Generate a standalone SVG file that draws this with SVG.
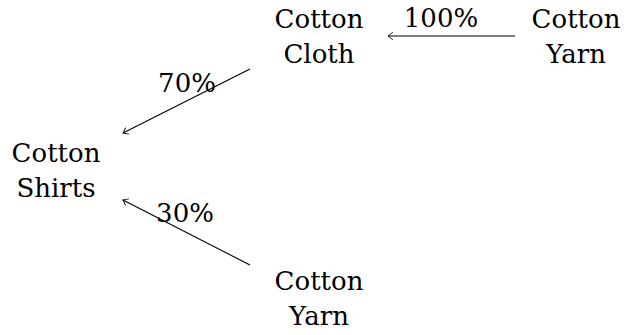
<svg xmlns="http://www.w3.org/2000/svg" width="627" height="335" viewBox="0 0 627 335">
<style>
text{font-family:'DejaVu Serif',serif;font-size:26px;fill:#000;text-anchor:middle}
.c{stroke:#000;stroke-width:1.1;fill:none;marker-end:url(#a)}
</style>
<defs>
<marker id="a" viewBox="-6 -5 8 10" refX="0" refY="0" markerWidth="8" markerHeight="10" markerUnits="userSpaceOnUse" orient="auto">
<path d="M-4.5,-3.5 Q-1,-0.6 0,0 Q-1,0.6 -4.5,3.5" fill="none" stroke="#000" stroke-width="0.9" stroke-linecap="round"/>
</marker>
</defs>
<rect width="627" height="335" fill="#fff"/>
<g id="cloth"><text x="319" y="28">Cotton</text><text x="319" y="63">Cloth</text></g>
<g id="yarn1"><text x="576" y="28">Cotton</text><text x="576" y="63">Yarn</text></g>
<g id="shirts"><text x="56" y="162">Cotton</text><text x="56" y="197">Shirts</text></g>
<g id="yarn2"><text x="319" y="290">Cotton</text><text x="319" y="325">Yarn</text></g>
<g id="connectors">
<line class="c" x1="515" y1="36" x2="388" y2="36"/>
<line class="c" x1="250" y1="69" x2="123" y2="133"/>
<line class="c" x1="250" y1="265" x2="123" y2="200"/>
<text x="441" y="27">100%</text>
<text x="187" y="92">70%</text>
<text x="185" y="222">30%</text>
</g>
</svg>
